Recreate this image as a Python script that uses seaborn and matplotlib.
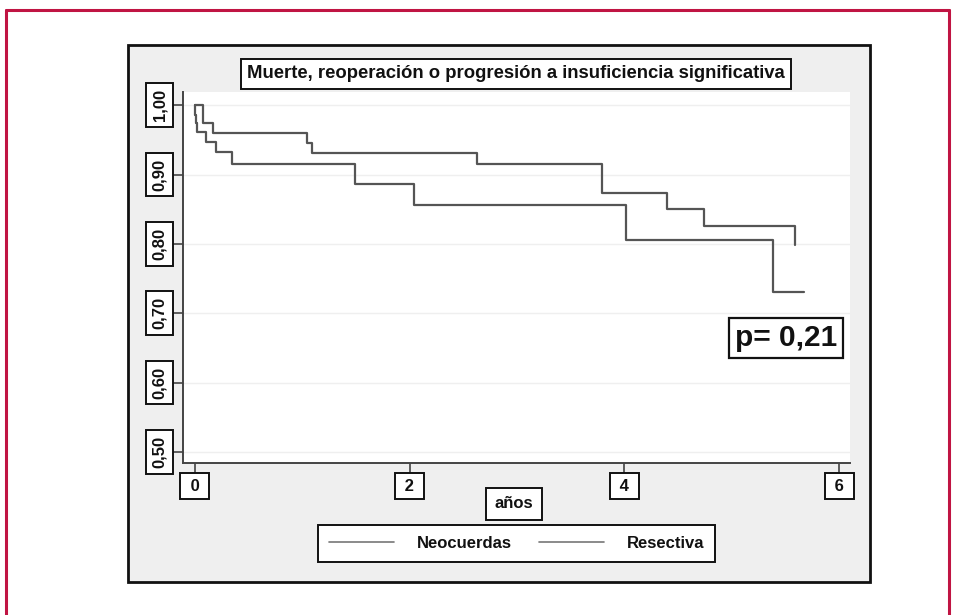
import matplotlib
matplotlib.use("Agg")
import matplotlib.pyplot as plt
from matplotlib.patches import Rectangle
from matplotlib.lines import Line2D
import seaborn as sns
import pandas as pd

# ---- data ----
grupo_a = "Neocuerdas"
tiempo_a = [0.0, 0.078, 0.165, 1.04, 1.087, 2.63, 3.79, 4.40, 4.74, 5.59]
superv_a = [1.000, 0.974, 0.960, 0.946, 0.931, 0.915, 0.874, 0.850, 0.826, 0.799]

grupo_b = "Resectiva"
tiempo_b = [0.0, 0.0, 0.008, 0.016, 0.103, 0.193, 0.348, 1.494, 2.04, 4.01, 5.38, 5.67]
superv_b = [1.000, 0.986, 0.974, 0.962, 0.947, 0.932, 0.915, 0.887, 0.856, 0.806, 0.731, 0.731]

titulo = "Muerte, reoperación o progresión a insuficiencia significativa"
xticks = [0, 2, 4, 6]
xticklabels = ["0", "2", "4", "6"]
yticks = [0.5, 0.6, 0.7, 0.8, 0.9, 1.0]
yticklabels = ["0,50", "0,60", "0,70", "0,80", "0,90", "1,00"]
xlabel = "años"
pvalor = "p= 0,21"

df = pd.DataFrame({
    "t": tiempo_a + tiempo_b,
    "S": superv_a + superv_b,
    "grupo": [grupo_a] * len(tiempo_a) + [grupo_b] * len(tiempo_b),
})

sns.set_theme(style="white")
plt.rcParams["font.family"] = ["Liberation Sans", "DejaVu Sans"]
plt.rcParams["font.weight"] = "bold"

W, H = 954, 615
fig = plt.figure(figsize=(W / 100, H / 100), dpi=100)
fig.patch.set_facecolor("white")

def fx(px):
    return px / W

def fy(py):
    return 1 - py / H

# outer crimson frame (open at bottom)
crimson = "#c01443"
fig.add_artist(Line2D([fx(6), fx(6)], [fy(10), 0], color=crimson, lw=2.2, transform=fig.transFigure))
fig.add_artist(Line2D([fx(949), fx(949)], [fy(10), 0], color=crimson, lw=2.2, transform=fig.transFigure))
fig.add_artist(Line2D([fx(6), fx(949)], [fy(10), fy(10)], color=crimson, lw=2.2, transform=fig.transFigure))

# gray panel with black border
fig.add_artist(Rectangle((fx(128), fy(582)), fx(870) - fx(128), fy(45) - fy(582),
                         facecolor="#efefef", edgecolor="#111111", lw=2.0,
                         transform=fig.transFigure, zorder=0))

L, R, T, B = 183, 850, 92, 463
ax = fig.add_axes([fx(L), fy(B), fx(R) - fx(L), fy(T) - fy(B)])
ax.set_facecolor("white")

gray = "#555555"
sns.lineplot(data=df, x="t", y="S", hue="grupo", palette=[gray, gray],
             drawstyle="steps-post", estimator=None, sort=False,
             lw=1.6, ax=ax, legend=False)

ax.set_xlim(-0.11, 6.1)
ax.set_ylim(0.484, 1.019)

ax.set_yticks(yticks)
ax.set_yticklabels(yticklabels, rotation=90, va="center", fontsize=12, fontweight="bold")
ax.set_xticks(xticks)
ax.set_xticklabels([" " + s + " " for s in xticklabels], fontsize=12, fontweight="bold")

ax.yaxis.grid(True, color="#efefef", lw=1)
ax.xaxis.grid(False)
for s in ["top", "right"]:
    ax.spines[s].set_visible(False)
for s in ["left", "bottom"]:
    ax.spines[s].set_color("#444444")
    ax.spines[s].set_linewidth(1.4)

ax.tick_params(axis="both", which="both", direction="out", length=7.2, width=1.2,
               color="#444444", left=True, bottom=True)
ax.tick_params(axis="y", pad=4.2)
ax.tick_params(axis="x", pad=4.0)

for lab in ax.get_yticklabels():
    lab.set_bbox(dict(boxstyle="square,pad=0.35", facecolor="white", edgecolor="#111111", lw=1.4))
    lab.set_color("#111111")
for lab in ax.get_xticklabels():
    lab.set_bbox(dict(boxstyle="square,pad=0.32", facecolor="white", edgecolor="#111111", lw=1.4))
    lab.set_color("#111111")

# x label
ax.set_xlabel(xlabel, fontsize=12, fontweight="bold", color="#111111",
              bbox=dict(boxstyle="square,pad=0.5", facecolor="white", edgecolor="#111111", lw=1.4))
ax.xaxis.set_label_coords((514 - L) / (R - L), (B - 504) / (B - T))
ax.xaxis.label.set_va("center")
ax.set_ylabel("")

# title box
ax.text((516 - L) / (R - L), (B - 74) / (B - T), titulo, transform=ax.transAxes,
        ha="center", va="center", fontsize=13.3, fontweight="bold", color="#111111",
        bbox=dict(boxstyle="square,pad=0.33", facecolor="white", edgecolor="#111111", lw=1.4))

# p value box
ax.text((786 - L) / (R - L), (B - 338) / (B - T), pvalor, transform=ax.transAxes,
        ha="center", va="center", fontsize=21.5, fontweight="bold", color="#111111",
        bbox=dict(boxstyle="square,pad=0.2", facecolor="white", edgecolor="#111111", lw=1.6))

# legend
handles = [Line2D([], [], color="#777777", lw=1.2), Line2D([], [], color="#777777", lw=1.2)]
leg = fig.legend(handles, [grupo_a, grupo_b], ncol=2, loc="center",
                 bbox_to_anchor=(fx(516.5), fy(543.5)), fontsize=12,
                 frameon=True, fancybox=False, handlelength=3.9, handletextpad=1.4,
                 columnspacing=1.6, borderpad=0.65)
leg.get_frame().set_edgecolor("#111111")
leg.get_frame().set_linewidth(1.4)
leg.get_frame().set_facecolor("white")
leg.get_frame().set_alpha(1)
for t in leg.get_texts():
    t.set_fontweight("bold")
    t.set_color("#111111")

fig.savefig("out.png", dpi=100)
